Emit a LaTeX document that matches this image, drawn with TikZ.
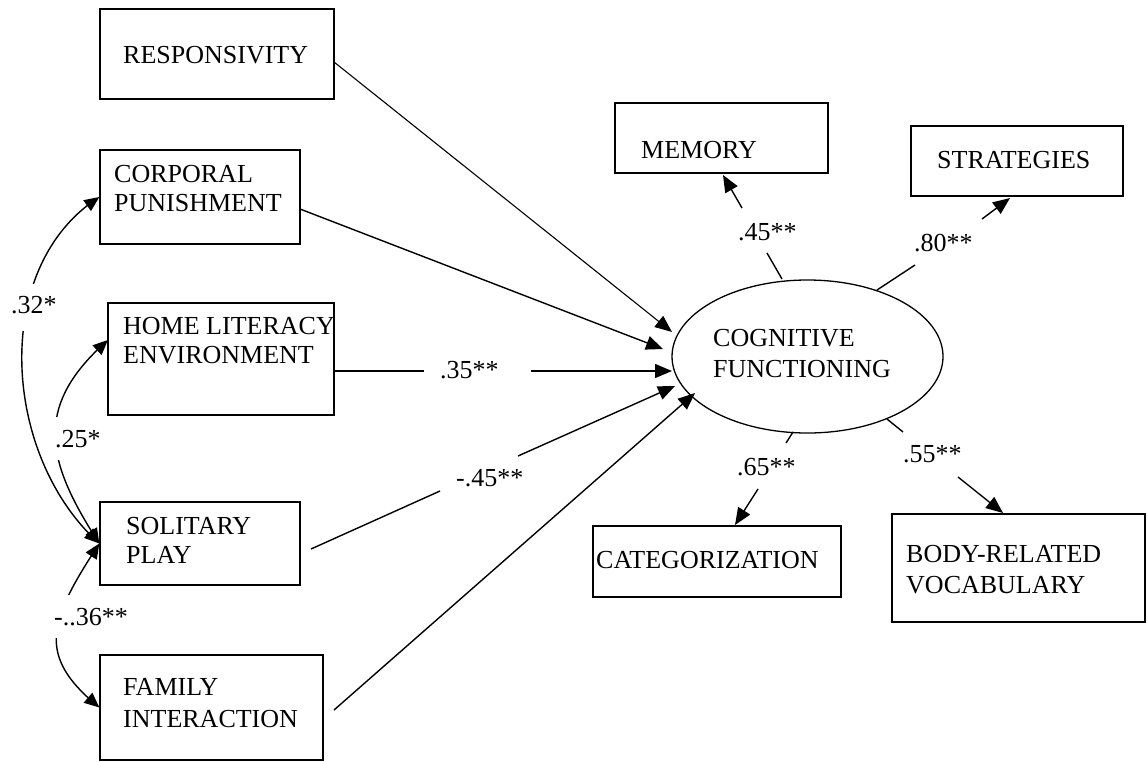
\documentclass[tikz,border=0pt]{standalone}
\usepackage{fontspec}
\setmainfont{Liberation Serif}
\usetikzlibrary{arrows.meta,shapes.geometric,bending}
\begin{document}
\begin{tikzpicture}[x=1pt,y=-1pt,
  box/.style={draw, line width=1.3pt, rectangle, inner sep=0pt},
  oval/.style={draw, line width=1.3pt, ellipse, inner sep=0pt},
  txt/.style={anchor=base west, inner sep=0pt, font=\fontsize{26}{29.5}\selectfont},
  lblw/.style={anchor=base west, fill=white, inner xsep=2pt, inner ysep=13pt, text depth=0pt, font=\fontsize{26}{29.5}\selectfont},
  conn/.style={line width=1.4pt},
  arr/.style={line width=1.4pt, -{Triangle[length=17pt,width=14pt]}},
  dbl/.style={line width=1.4pt, {Triangle[length=15pt,width=13pt]}-{Triangle[length=15pt,width=13pt]}},
]
\useasboundingbox (0,0) rectangle (1147,761);

% boxes
\node[box, minimum width=234pt, minimum height=90pt] (resp) at (217,54) {};
\node[box, minimum width=200pt, minimum height=94pt] (corp) at (200,197) {};
\node[box, minimum width=226pt, minimum height=112pt] (home) at (221,359) {};
\node[box, minimum width=200pt, minimum height=83pt] (soli) at (200,543.5) {};
\node[box, minimum width=223pt, minimum height=105pt] (fam) at (211.5,707.5) {};
\node[box, minimum width=213pt, minimum height=70pt] (mem) at (721.5,138) {};
\node[box, minimum width=212pt, minimum height=70pt] (strat) at (1017,161) {};
\node[box, minimum width=248pt, minimum height=71pt] (cat) at (717,561.5) {};
\node[box, minimum width=253pt, minimum height=108pt] (body) at (1018.5,568) {};
\node[oval, minimum width=271pt, minimum height=153pt] (cog) at (807.5,356.5) {};

% box texts
\node[txt] (tresp) at (123,63) {RESPONSIVITY};
\node[txt] (tcorpA) at (114,182) {CORPORAL};
\node[txt] (tcorpB) at (114,211) {PUNISHMENT};
\node[txt] (thomeA) at (123,334) {HOME LITERACY};
\node[txt] (thomeB) at (123,363) {ENVIRONMENT};
\node[txt] (tsoliA) at (126,534) {SOLITARY};
\node[txt] (tsoliB) at (126,563) {PLAY};
\node[txt] (tfamA) at (123,695) {FAMILY};
\node[txt] (tfamB) at (123,727) {INTERACTION};
\node[txt] (tmem) at (641,158) {MEMORY};
\node[txt] (tstrat) at (937,168) {STRATEGIES};
\node[txt] (tcogA) at (713,346) {COGNITIVE};
\node[txt] (tcogB) at (713,377) {FUNCTIONING};
\node[txt] (tcat) at (596,568) {CATEGORIZATION};
\node[txt] (tbodyA) at (906,562) {BODY-RELATED};
\node[txt] (tbodyB) at (906,593) {VOCABULARY};

% connector end points
\coordinate (rS) at (334,62);   \coordinate (rT) at (672,332);
\coordinate (cS) at (300,209);  \coordinate (cT) at (663,349);
\coordinate (hS) at (334,371);  \coordinate (hA) at (424,371); \coordinate (hB) at (531,371); \coordinate (hT) at (672,371);
\coordinate (sS) at (311,549);  \coordinate (sA) at (440,491); \coordinate (sB) at (518,456); \coordinate (sT) at (675,386);
\coordinate (fS) at (334,710);  \coordinate (fT) at (695,393);
\coordinate (mS) at (782,279);  \coordinate (mA) at (767,253); \coordinate (mB) at (742,208); \coordinate (mT) at (723,175);
\coordinate (gS) at (877,290);  \coordinate (gA) at (915,265); \coordinate (gB) at (982,219); \coordinate (gT) at (1010,198);
\coordinate (kS) at (793,432);  \coordinate (kA) at (786,443); \coordinate (kB) at (758,489); \coordinate (kT) at (735,525);
\coordinate (bS) at (887,419);  \coordinate (bA) at (903,432); \coordinate (bB) at (958,477); \coordinate (bT) at (1003,513);
\coordinate (h25) at (108,340);

% incoming paths
\draw[line width=1.1pt, -{Triangle[length=17pt,width=14pt]}] (rS) -- (rT);
\draw[arr] (cS) -- (cT);
\draw[conn] (hS) -- (hA); \draw[arr] (hB) -- (hT);
\draw[conn] (sS) -- (sA); \draw[arr] (sB) -- (sT);
\draw[arr] (fS) -- (fT);

% loadings
\draw[conn] (mS) -- (mA); \draw[arr] (mB) -- (mT);
\draw[conn] (gS) -- (gA); \draw[arr] (gB) -- (gT);
\draw[conn] (kS) -- (kA); \draw[arr] (kB) -- (kT);
\draw[conn] (bS) -- (bA); \draw[arr] (bB) -- (bT);

% correlations
\draw[dbl] (corp.west) .. controls (-10.5,267) and (2.5,457) .. (soli.west);
\draw[dbl] (h25) .. controls (33,406) and (45,460) .. (soli.west);
\draw[dbl] (soli.west) .. controls (47.75,621.9) and (36.25,656) .. (fam.west);

% path labels
\node[txt] (l35) at (440,378) {.35**};
\node[txt] (l45n) at (456,486) {-.45**};
\node[txt] (l45) at (738,240) {.45**};
\node[txt] (l80) at (914,251) {.80**};
\node[txt] (l65) at (737,475) {.65**};
\node[txt] (l55) at (903,462) {.55**};
\node[lblw, text depth=6pt, inner ysep=12pt] (l32) at (9,313) {.32*};
\node[lblw] (l25) at (53,447) {.25*};
\node[lblw] (l36) at (52,625) {-..36**};
\end{tikzpicture}
\end{document}
